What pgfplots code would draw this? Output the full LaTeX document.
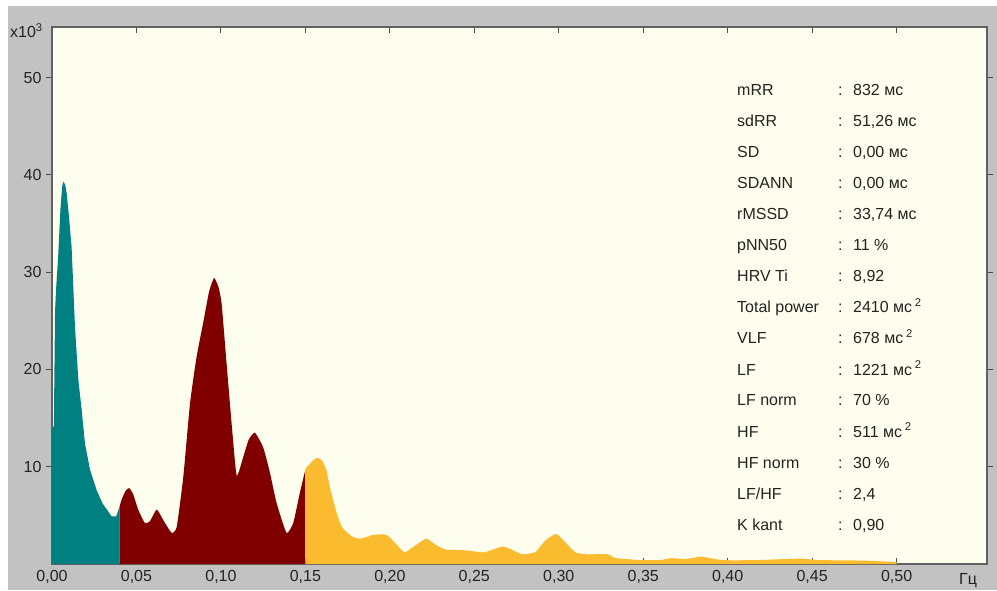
\documentclass[border=0pt]{standalone}
\usepackage{fontspec}
\setmainfont{Liberation Sans}
\usepackage{pgfplots}
\pgfplotsset{compat=1.18}

\definecolor{panel}{RGB}{194,194,194}
\definecolor{cream}{RGB}{253,254,238}
\definecolor{vlf}{RGB}{0,128,128}
\definecolor{lf}{RGB}{128,0,0}
\definecolor{hf}{RGB}{251,187,46}
\definecolor{ink}{RGB}{35,35,35}

\newcommand\cf{\fontsize{16}{19}\selectfont}
% one line of the statistics block: baseline y, name, value
\newcommand\stat[3]{%
  \node[anchor=base west, inner sep=0pt, text=ink, font=\cf] at (685pt,#1) {#2};
  \node[anchor=base west, inner sep=0pt, text=ink, font=\cf] at (786pt,#1) {:};
  \node[anchor=base west, inner sep=0pt, text=ink, font=\cf] at (801pt,#1) {#3};}
\newcommand\sq{\,\textsuperscript{2}}

\begin{document}
\begin{tikzpicture}
\fill[panel] (-52pt,-26pt) rectangle (945pt,564pt);
\fill[white] (-52pt,558pt) rectangle (945pt,564pt);
\fill[white] (-52pt,-26pt) rectangle (-44pt,564pt);

\begin{axis}[
  at={(0pt,0pt)}, anchor=south west,
  scale only axis,
  width=935pt, height=537pt,
  xmin=0, xmax=0.5535,
  ymin=0, ymax=55.2,
  axis background/.style={fill=cream},
  axis line style={draw=black!62, line width=1.6pt},
  xtick={0,0.05,0.1,0.15,0.2,0.25,0.3,0.35,0.4,0.45,0.5},
  xticklabels={{0,00},{0,05},{0,10},{0,15},{0,20},{0,25},{0,30},{0,35},{0,40},{0,45},{0,50}},
  ytick={10,20,30,40,50},
  xtick align=inside,
  ytick align=outside,
  major tick length=6pt,
  tick style={draw=black!70, line width=1pt},
  tick label style={font=\cf, text=ink},
  /pgf/number format/assume math mode=true,
  xticklabel style={yshift=-3pt},
  yticklabel style={xshift=-1pt},
]
% VLF band
\addplot[draw=none, fill=vlf] coordinates {
(0,14.1) (0.0011,14.1) (0.0018,26) (0.0024,28.2) (0.0037,31.8) (0.0050,36.5)
(0.0060,38.8) (0.0067,39.3) (0.0078,39.0) (0.0087,38.1) (0.0100,35.8)
(0.0116,32.6) (0.0136,24.4) (0.0156,18.9) (0.0176,15.8) (0.0195,12.4)
(0.0225,9.7) (0.0264,7.6) (0.0300,6.2) (0.0353,4.9) (0.0380,4.9) (0.0400,5.9)
} \closedcycle;
% LF band
\addplot[draw=none, fill=lf, smooth, tension=0.3] coordinates {
(0.0400,5.9) (0.0412,6.6) (0.0435,7.5) (0.0457,7.8) (0.0480,7.2) (0.0510,5.6)
(0.0550,4.2) (0.0580,4.4) (0.0620,5.6) (0.0659,4.5) (0.0708,3.2) (0.0738,3.8)
(0.0777,8.9) (0.0817,16.5) (0.0856,21.3) (0.0895,24.8) (0.0930,28.0)
(0.0959,29.4) (0.0985,28.5) (0.1004,26.8) (0.1033,20.7) (0.1063,14.5)
(0.1093,9.1) (0.1132,11.0) (0.1165,12.8) (0.1201,13.5) (0.1250,12.0)
(0.1290,9.4) (0.1329,6.3) (0.1388,3.2) (0.1428,4.2) (0.1467,7.3) (0.1500,9.7)
} \closedcycle;
% HF band
\addplot[draw=none, fill=hf, smooth, tension=0.3] coordinates {
(0.1500,9.8) (0.1527,10.3) (0.1555,10.8) (0.1576,10.9) (0.1600,10.6)
(0.1625,9.6) (0.1645,7.9) (0.1686,5.2) (0.1716,3.8) (0.1750,3.2) (0.1780,2.8)
(0.1820,2.6) (0.1870,2.8) (0.1900,3.0) (0.1980,3.0) (0.2040,2.0) (0.2088,1.2)
(0.2150,1.9) (0.2215,2.6) (0.2270,2.0) (0.2328,1.5) (0.2455,1.4) (0.2556,1.2)
(0.2669,1.8) (0.2730,1.4) (0.2783,1.0) (0.2859,1.2) (0.2920,2.4) (0.2985,3.1)
(0.3040,2.2) (0.3098,1.2) (0.3162,1.0) (0.3288,1.0) (0.3338,0.6) (0.3490,0.4)
(0.3600,0.4) (0.3667,0.6) (0.3750,0.5) (0.3843,0.75) (0.3970,0.4) (0.4170,0.4)
(0.4424,0.55) (0.4550,0.4) (0.4800,0.35) (0.5000,0.2)
} \closedcycle;
\end{axis}

\node[anchor=base west, inner sep=0pt, text=ink, font=\cf] at (-42pt,526pt) {x10\textsuperscript{3}};
\node[anchor=base, inner sep=0pt, text=ink, font=\cf] at (916pt,-20pt) {Гц};

\stat{468pt}{mRR}{832 мс}
\stat{437pt}{sdRR}{51,26 мс}
\stat{406pt}{SD}{0,00 мс}
\stat{375pt}{SDANN}{0,00 мс}
\stat{344pt}{rMSSD}{33,74 мс}
\stat{313pt}{pNN50}{11 \%}
\stat{282pt}{HRV Ti}{8,92}
\stat{251pt}{Total power}{2410 мс\sq}
\stat{220pt}{VLF}{678 мс\sq}
\stat{189pt}{LF}{1221 мс\sq}
\stat{158pt}{LF norm}{70 \%}
\stat{127pt}{HF}{511 мс\sq}
\stat{96pt}{HF norm}{30 \%}
\stat{65pt}{LF/HF}{2,4}
\stat{34pt}{K kant}{0,90}
\end{tikzpicture}
\end{document}
